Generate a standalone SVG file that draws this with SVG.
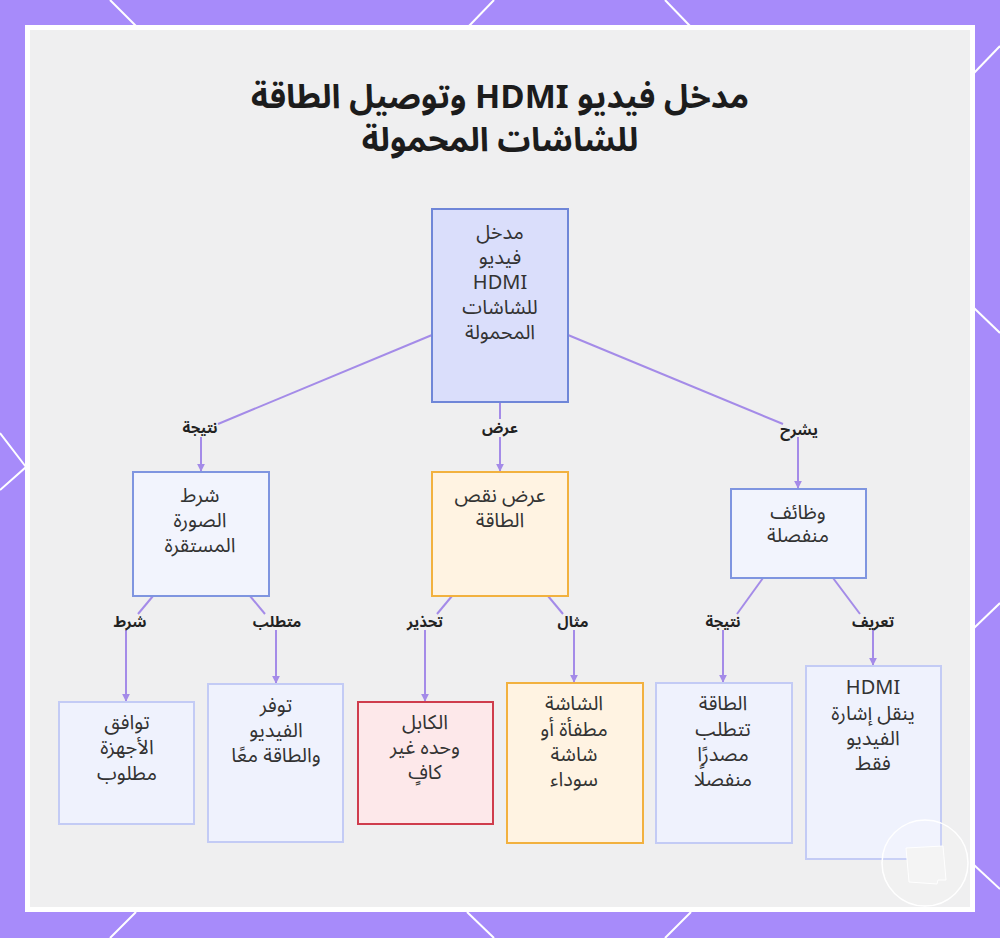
<svg xmlns="http://www.w3.org/2000/svg" width="1000" height="938" viewBox="0 0 1000 938">
<defs>
<style>
.ntext{font-family:"Noto Sans Arabic","Noto Sans","DejaVu Sans",sans-serif;font-size:20px;fill:#333333;text-anchor:middle;direction:rtl;}
.elabel{font-family:"Noto Sans Arabic","Noto Sans","DejaVu Sans",sans-serif;font-size:15px;font-weight:bold;fill:#222222;text-anchor:middle;direction:rtl;}
.title{font-family:"Noto Sans Arabic","Noto Sans","DejaVu Sans",sans-serif;font-size:33px;font-weight:bold;fill:#1c1c1c;text-anchor:middle;direction:rtl;}
.edge{fill:none;stroke:#a48be8;stroke-width:2;}
.deco{stroke:#ffffff;stroke-width:2;fill:none;}
.blue{fill:#f2f4fd;stroke:#7f95e0;stroke-width:2;}
.leaf{fill:#eff2fd;stroke:#c3cbf5;stroke-width:2;}
.orange{fill:#fff3e2;stroke:#f2b13f;stroke-width:2;}
.red{fill:#fde8ea;stroke:#cf3d4d;stroke-width:2;}
.root{fill:#dadefb;stroke:#6f86d8;stroke-width:2;}
</style>
<marker id="arr" viewBox="0 0 10 10" refX="9" refY="5" markerWidth="4" markerHeight="4" orient="auto">
<path d="M0,0 L10,5 L0,10 z" fill="#a48be8"/>
</marker>
</defs>
<rect x="0" y="0" width="1000" height="938" fill="#a78bfa"/>
<g id="decoration">
<line class="deco" x1="110" y1="0" x2="136" y2="26"/>
<line class="deco" x1="494" y1="0" x2="469" y2="26"/>
<line class="deco" x1="665" y1="0" x2="690" y2="26"/>
<line class="deco" x1="1000" y1="46" x2="974" y2="73"/>
<line class="deco" x1="974" y1="308" x2="1000" y2="333"/>
<line class="deco" x1="974" y1="628" x2="1000" y2="603"/>
<line class="deco" x1="974" y1="865" x2="1000" y2="889"/>
<line class="deco" x1="110" y1="938" x2="136" y2="912"/>
<line class="deco" x1="494" y1="938" x2="467" y2="912"/>
<line class="deco" x1="665" y1="938" x2="691" y2="912"/>
<polyline class="deco" points="0,433 26,467 0,490"/>
</g>
<rect x="27.5" y="27.5" width="945" height="882" fill="#efeff0" stroke="#ffffff" stroke-width="5"/>
<g id="title">
<text class="title" x="500" y="108" direction="rtl">مدخل فيديو HDMI وتوصيل الطاقة</text>
<text class="title" x="500" y="151" direction="rtl">للشاشات المحمولة</text>
</g>
<g id="connectors">
<path class="edge" d="M432,335 L218,424"/>
<path class="edge" d="M201,437 L201,471" marker-end="url(#arr)"/>
<path class="edge" d="M500,402 L500,419"/>
<path class="edge" d="M500,437 L500,471" marker-end="url(#arr)"/>
<path class="edge" d="M568,335 L783,424"/>
<path class="edge" d="M798,437 L798,488" marker-end="url(#arr)"/>
<path class="edge" d="M153,596 L138,614"/>
<path class="edge" d="M126,630 L126,701" marker-end="url(#arr)"/>
<path class="edge" d="M250,596 L265,614"/>
<path class="edge" d="M276,630 L276,683" marker-end="url(#arr)"/>
<path class="edge" d="M452,596 L437,614"/>
<path class="edge" d="M425,630 L425,701" marker-end="url(#arr)"/>
<path class="edge" d="M548,596 L563,614"/>
<path class="edge" d="M574,630 L574,682" marker-end="url(#arr)"/>
<path class="edge" d="M763,578 L737,614"/>
<path class="edge" d="M723,630 L723,682" marker-end="url(#arr)"/>
<path class="edge" d="M833,578 L860,614"/>
<path class="edge" d="M873,630 L873,665" marker-end="url(#arr)"/>
<text class="elabel" x="200" y="433">نتيجة</text>
<text class="elabel" x="500" y="433">عرض</text>
<text class="elabel" x="799" y="435">يشرح</text>
<text class="elabel" x="130" y="627">شرط</text>
<text class="elabel" x="277" y="627">متطلب</text>
<text class="elabel" x="425" y="627">تحذير</text>
<text class="elabel" x="573" y="627">مثال</text>
<text class="elabel" x="723" y="627">نتيجة</text>
<text class="elabel" x="873" y="627">تعريف</text>
</g>
<g id="node-root">
<rect class="root" x="432" y="209" width="136" height="193"/>
<text class="ntext" x="500" y="239">مدخل</text>
<text class="ntext" x="500" y="264">فيديو</text>
<text class="ntext" x="500" y="289">HDMI</text>
<text class="ntext" x="500" y="314">للشاشات</text>
<text class="ntext" x="500" y="339">المحمولة</text>
</g>
<g id="node-stable">
<rect class="blue" x="133" y="472" width="136" height="124"/>
<text class="ntext" x="200" y="502">شرط</text>
<text class="ntext" x="200" y="527">الصورة</text>
<text class="ntext" x="200" y="552">المستقرة</text>
</g>
<g id="node-lowpower">
<rect class="orange" x="432" y="472" width="136" height="124"/>
<text class="ntext" x="500" y="502">عرض نقص</text>
<text class="ntext" x="500" y="527">الطاقة</text>
</g>
<g id="node-separate">
<rect class="blue" x="731" y="489" width="135" height="89"/>
<text class="ntext" x="798" y="519">وظائف</text>
<text class="ntext" x="798" y="542">منفصلة</text>
</g>
<g id="leaf-compat">
<rect class="leaf" x="59" y="702" width="135" height="122"/>
<text class="ntext" x="127" y="729">توافق</text>
<text class="ntext" x="127" y="754">الأجهزة</text>
<text class="ntext" x="127" y="780">مطلوب</text>
</g>
<g id="leaf-both">
<rect class="leaf" x="208" y="684" width="135" height="158"/>
<text class="ntext" x="276" y="712">توفر</text>
<text class="ntext" x="276" y="737">الفيديو</text>
<text class="ntext" x="276" y="762">والطاقة معًا</text>
</g>
<g id="leaf-cable">
<rect class="red" x="358" y="702" width="135" height="122"/>
<text class="ntext" x="425" y="729">الكابل</text>
<text class="ntext" x="425" y="754">وحده غير</text>
<text class="ntext" x="425" y="779">كافٍ</text>
</g>
<g id="leaf-screen">
<rect class="orange" x="507" y="683" width="136" height="160"/>
<text class="ntext" x="574" y="710">الشاشة</text>
<text class="ntext" x="574" y="736">مطفأة أو</text>
<text class="ntext" x="574" y="761">شاشة</text>
<text class="ntext" x="574" y="786">سوداء</text>
</g>
<g id="leaf-power">
<rect class="leaf" x="656" y="683" width="136" height="160"/>
<text class="ntext" x="723" y="710">الطاقة</text>
<text class="ntext" x="723" y="736">تتطلب</text>
<text class="ntext" x="723" y="761">مصدرًا</text>
<text class="ntext" x="723" y="786">منفصلًا</text>
</g>
<g id="leaf-hdmi">
<rect class="leaf" x="806" y="666" width="135" height="193"/>
<text class="ntext" x="873" y="694">HDMI</text>
<text class="ntext" x="873" y="720">ينقل إشارة</text>
<text class="ntext" x="873" y="745">الفيديو</text>
<text class="ntext" x="873" y="770">فقط</text>
</g>
<g id="badge">
<circle cx="925" cy="863" r="43" fill="#ffffff" fill-opacity="0.12" stroke="#ffffff" stroke-width="1.5"/>
<path d="M906,848 L943,846 L946,880 L938,880 L937,884 L909,882 Z" fill="#f4f4f4" stroke="#ffffff" stroke-width="1" stroke-linejoin="round"/>
</g>
</svg>
